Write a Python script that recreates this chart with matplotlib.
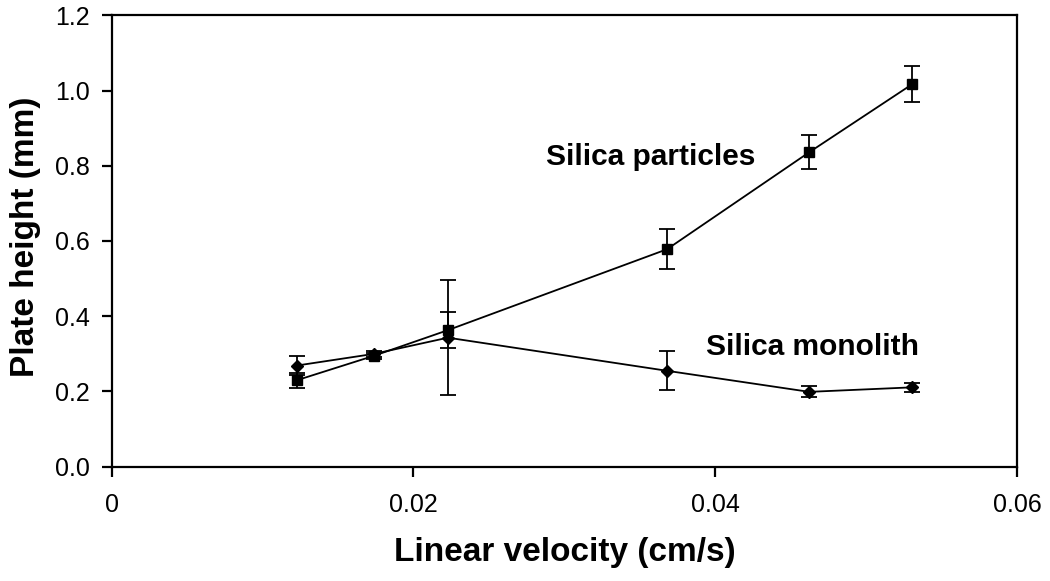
import matplotlib
matplotlib.use("Agg")
import matplotlib.pyplot as plt

plt.rcParams['font.family'] = ['Liberation Sans', 'DejaVu Sans']

velocity = [0.01228, 0.01739, 0.02228, 0.0368, 0.04623, 0.05306]
particles = [0.230, 0.295, 0.363, 0.578, 0.836, 1.017]
particles_err = [0.020, 0.008, 0.047, 0.053, 0.045, 0.048]
monolith = [0.269, 0.300, 0.343, 0.255, 0.199, 0.211]
monolith_err = [0.026, 0.008, 0.152, 0.052, 0.015, 0.012]

xticks = [0, 0.02, 0.04, 0.06]
xticklabels = ['0', '0.02', '0.04', '0.06']
yticks = [0.0, 0.2, 0.4, 0.6, 0.8, 1.0, 1.2]
yticklabels = ['0.0', '0.2', '0.4', '0.6', '0.8', '1.0', '1.2']

fig = plt.figure(figsize=(10.5, 5.81), dpi=100)
ax = fig.add_axes([0.1064, 0.1967, 0.8622, 0.7770])

ax.errorbar(velocity, particles, yerr=particles_err, fmt='-s', color='black',
            ms=7, lw=1.3, elinewidth=1.3, capsize=6, capthick=1.3, zorder=3)
ax.errorbar(velocity, monolith, yerr=monolith_err, fmt='-D', color='black',
            ms=6.5, lw=1.3, elinewidth=1.3, capsize=6, capthick=1.3, zorder=3)

ax.set_xlim(0, 0.06)
ax.set_ylim(0, 1.2)
ax.set_xticks(xticks)
ax.set_xticklabels(xticklabels)
ax.set_yticks(yticks)
ax.set_yticklabels(yticklabels)

for s in ax.spines.values():
    s.set_linewidth(1.6)
ax.tick_params(axis='both', direction='out', length=7, width=1.6,
               labelsize=18, pad=9, top=False, right=False)
ax.tick_params(axis='x', pad=12)

ax.set_xlabel('Linear velocity (cm/s)', fontsize=24, fontweight='bold')
ax.set_ylabel('Plate height (mm)', fontsize=24, fontweight='bold')
ax.xaxis.label.set_va('center')
ax.yaxis.label.set_va('center')
ax.xaxis.set_label_coords(0.5, -0.19)
ax.yaxis.set_label_coords(-0.095, 0.51)

ax.text(0.0357, 0.824, 'Silica particles', fontsize=21.5, fontweight='bold',
        ha='center', va='center')
ax.text(0.04643, 0.318, 'Silica monolith', fontsize=21.5, fontweight='bold',
        ha='center', va='center')

fig.savefig('out.png', dpi=100)
